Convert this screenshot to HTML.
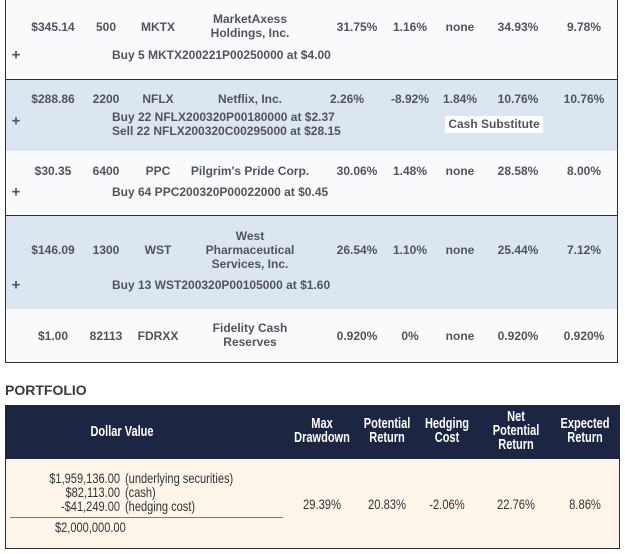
<!DOCTYPE html>
<html><head><meta charset="utf-8"><style>
body{margin:0;width:625px;height:554px;background:#fff;position:relative;overflow:hidden;font-family:"Liberation Sans",Arial,sans-serif;}
.r{position:absolute;left:5px;width:613px;border:1px solid #2b2f36;box-sizing:border-box;}
.t{position:absolute;transform:translate(-50%,-50%);font-size:12px;font-weight:bold;color:#50555c;text-align:center;white-space:nowrap;line-height:14px;}
.l{position:absolute;font-size:12px;font-weight:bold;color:#50555c;white-space:nowrap;line-height:14px;}
.h{position:absolute;transform:translate(-50%,-50%) scaleX(0.76);font-size:14.5px;font-weight:bold;color:#fff;text-align:center;line-height:14px;white-space:nowrap;}
.p{position:absolute;transform:translate(-50%,-50%) scaleX(0.8);font-size:14px;color:#333;white-space:nowrap;}
.pl{position:absolute;font-size:14px;color:#333;white-space:nowrap;line-height:14px;}
.plus{position:absolute;transform:translate(-50%,-50%);font-size:15px;font-weight:bold;color:#50555c;}
</style></head><body>
<div class="r" style="top:-1px;height:81px;background:#f9fafc;border-top:none"></div>
<div class="r" style="top:79px;height:73px;background:#dce6f0"></div>
<div class="r" style="top:151px;height:66px;background:#f9fafc;border-top:none"></div>
<div class="r" style="top:215px;height:95px;background:#dce6f0"></div>
<div class="r" style="top:309px;height:54px;background:#f9fafc;border-top:none"></div>

<!-- row 1 -->
<div class="t" style="left:53px;top:27px">$345.14</div><div class="t" style="left:106px;top:27px">500</div><div class="t" style="left:158px;top:27px">MKTX</div>
<div class="t" style="left:250px;top:26px">MarketAxess<br>Holdings, Inc.</div>
<div class="t" style="left:357px;top:27px">31.75%</div><div class="t" style="left:410px;top:27px">1.16%</div><div class="t" style="left:460px;top:27px">none</div><div class="t" style="left:518px;top:27px">34.93%</div><div class="t" style="left:584px;top:27px">9.78%</div>
<div class="plus" style="left:16px;top:55px">+</div>
<div class="l" style="left:112px;top:48px">Buy 5 MKTX200221P00250000 at $4.00</div>
<!-- row 2 -->
<div class="t" style="left:53px;top:99px">$288.86</div><div class="t" style="left:106px;top:99px">2200</div><div class="t" style="left:158px;top:99px">NFLX</div>
<div class="t" style="left:250px;top:99px">Netflix, Inc.</div>
<div class="t" style="left:347px;top:99px">2.26%</div><div class="t" style="left:410px;top:99px">-8.92%</div><div class="t" style="left:460px;top:99px">1.84%</div><div class="t" style="left:518px;top:99px">10.76%</div><div class="t" style="left:584px;top:99px">10.76%</div>
<div class="plus" style="left:16px;top:121px">+</div>
<div class="l" style="left:112px;top:110px">Buy 22 NFLX200320P00180000 at $2.37<br>Sell 22 NFLX200320C00295000 at $28.15</div>
<div class="l" style="left:445px;top:116px;width:98px;height:17px;line-height:17px;background:#fff;text-align:center">Cash Substitute</div>
<!-- row 3 -->
<div class="t" style="left:53px;top:171px">$30.35</div><div class="t" style="left:106px;top:171px">6400</div><div class="t" style="left:158px;top:171px">PPC</div>
<div class="t" style="left:250px;top:171px">Pilgrim's Pride Corp.</div>
<div class="t" style="left:357px;top:171px">30.06%</div><div class="t" style="left:410px;top:171px">1.48%</div><div class="t" style="left:460px;top:171px">none</div><div class="t" style="left:518px;top:171px">28.58%</div><div class="t" style="left:584px;top:171px">8.00%</div>
<div class="plus" style="left:16px;top:192px">+</div>
<div class="l" style="left:112px;top:185px">Buy 64 PPC200320P00022000 at $0.45</div>
<!-- row 4 -->
<div class="t" style="left:53px;top:250px">$146.09</div><div class="t" style="left:106px;top:250px">1300</div><div class="t" style="left:158px;top:250px">WST</div>
<div class="t" style="left:250px;top:250px">West<br>Pharmaceutical<br>Services, Inc.</div>
<div class="t" style="left:357px;top:250px">26.54%</div><div class="t" style="left:410px;top:250px">1.10%</div><div class="t" style="left:460px;top:250px">none</div><div class="t" style="left:518px;top:250px">25.44%</div><div class="t" style="left:584px;top:250px">7.12%</div>
<div class="plus" style="left:16px;top:285px">+</div>
<div class="l" style="left:112px;top:278px">Buy 13 WST200320P00105000 at $1.60</div>
<!-- row 5 -->
<div class="t" style="left:53px;top:336px">$1.00</div><div class="t" style="left:106px;top:336px">82113</div><div class="t" style="left:158px;top:336px">FDRXX</div>
<div class="t" style="left:250px;top:335px">Fidelity Cash<br>Reserves</div>
<div class="t" style="left:357px;top:336px">0.920%</div><div class="t" style="left:410px;top:336px">0%</div><div class="t" style="left:460px;top:336px">none</div><div class="t" style="left:518px;top:336px">0.920%</div><div class="t" style="left:584px;top:336px">0.920%</div>

<div style="position:absolute;left:5px;top:382px;font-size:14px;font-weight:bold;color:#3a3a3a">PORTFOLIO</div>
<div style="position:absolute;left:5px;top:405px;width:615px;height:54px;background:#1c2541"></div>
<div style="position:absolute;left:5px;top:459px;width:615px;height:90px;background:#fdf5ea;border:1px solid #2b2f36;border-top:none;box-sizing:border-box"></div>
<div class="h" style="left:122px;top:432px">Dollar Value</div>
<div class="h" style="left:322px;top:431px">Max<br>Drawdown</div>
<div class="h" style="left:387px;top:431px">Potential<br>Return</div>
<div class="h" style="left:447px;top:431px">Hedging<br>Cost</div>
<div class="h" style="left:516px;top:431px">Net<br>Potential<br>Return</div>
<div class="h" style="left:585px;top:431px">Expected<br>Return</div>
<div class="pl" style="left:0px;top:471px;width:120px;text-align:right;transform:scaleX(0.79);transform-origin:right center">$1,959,136.00<br>$82,113.00<br>-$41,249.00</div>
<div class="pl" style="left:125px;top:471px;transform:scaleX(0.79);transform-origin:left center">(underlying securities)<br>(cash)<br>(hedging cost)</div>
<div style="position:absolute;left:10px;top:517px;width:273px;height:1px;background:#777"></div>
<div class="pl" style="left:55px;top:520px;transform:scaleX(0.79);transform-origin:left center">$2,000,000.00</div>
<div class="p" style="left:322px;top:504px">29.39%</div>
<div class="p" style="left:387px;top:504px">20.83%</div>
<div class="p" style="left:447px;top:504px">-2.06%</div>
<div class="p" style="left:516px;top:504px">22.76%</div>
<div class="p" style="left:585px;top:504px">8.86%</div>
</body></html>
